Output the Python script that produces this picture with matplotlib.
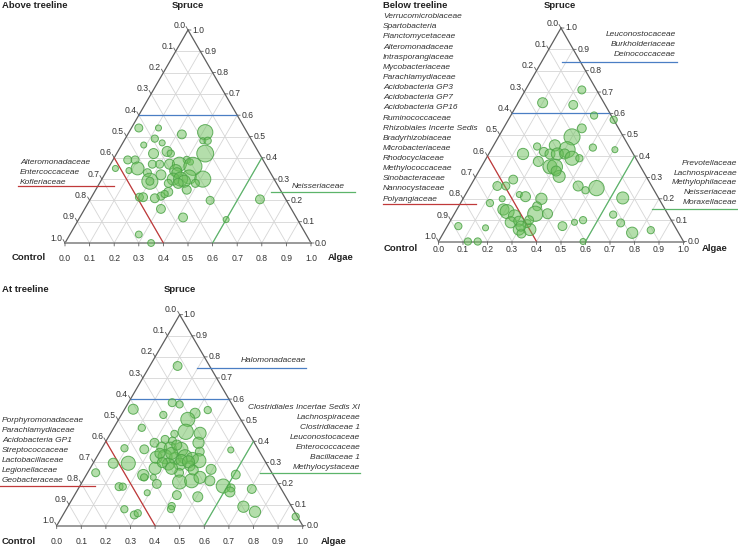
import numpy as np
import matplotlib.pyplot as plt
from matplotlib.lines import Line2D

plt.rcParams['font.family'] = ['Liberation Sans', 'DejaVu Sans']

# compositions: fraction of reads in algae and spruce (control = rest), bubble = abundance
above_algae = [0.03, 0.11, 0.22, 0.31, 0.32, 0.34, 0.12, 0.16, 0.09, 0.20, 0.22, 0.15, 0.36, 0.30,
               0.32, 0.06, 0.09, 0.17, 0.20, 0.24, 0.28, 0.34, 0.03, 0.12, 0.09, 0.17, 0.28, 0.29,
               0.23, 0.35, 0.41, 0.29, 0.32, 0.34, 0.20, 0.20, 0.28, 0.32, 0.39, 0.30, 0.28, 0.195,
               0.21, 0.26, 0.29, 0.37, 0.49, 0.31, 0.42, 0.69, 0.60, 0.28, 0.35]
above_spruce = [0.54, 0.54, 0.51, 0.52, 0.48, 0.48, 0.49, 0.47, 0.46, 0.43, 0.42, 0.42, 0.42, 0.39,
                0.38, 0.39, 0.39, 0.37, 0.37, 0.37, 0.37, 0.36, 0.35, 0.35, 0.34, 0.33, 0.34, 0.33,
                0.32, 0.31, 0.30, 0.30, 0.30, 0.29, 0.29, 0.29, 0.28, 0.28, 0.28, 0.24, 0.22, 0.215,
                0.215, 0.21, 0.23, 0.25, 0.20, 0.16, 0.12, 0.205, 0.11, 0.04, 0.0]
above_abund = [44, 25, 54, 160, 25, 36, 36, 25, 25, 69, 36, 69, 196, 36,
               25, 44, 44, 44, 44, 69, 136, 225, 25, 114, 25, 44, 100, 69,
               69, 136, 178, 100, 136, 100, 178, 44, 44, 69, 44, 54, 44, 44,
               54, 54, 36, 54, 44, 54, 54, 54, 25, 32, 32]

below_algae = [0.23, 0.10, 0.23, 0.34, 0.43, 0.30, 0.31, 0.25, 0.18, 0.14, 0.22, 0.25, 0.28, 0.31,
               0.35, 0.38, 0.41, 0.505, 0.22, 0.28, 0.30, 0.34, 0.315, 0.44, 0.48, 0.52, 0.16, 0.145,
               0.22, 0.11, 0.12, 0.16, 0.25, 0.32, 0.32, 0.33, 0.38, 0.19, 0.21, 0.25, 0.25, 0.28,
               0.30, 0.32, 0.345, 0.32, 0.30, 0.32, 0.47, 0.51, 0.54, 0.65, 0.70, 0.045, 0.16, 0.12,
               0.16, 0.59, 0.65, 0.32, 0.77, 0.84]
below_spruce = [0.71, 0.65, 0.64, 0.59, 0.57, 0.49, 0.43, 0.45, 0.445, 0.41, 0.42, 0.41, 0.41, 0.41,
                0.39, 0.39, 0.44, 0.43, 0.375, 0.35, 0.35, 0.305, 0.33, 0.26, 0.24, 0.25, 0.29, 0.26,
                0.22, 0.26, 0.18, 0.20, 0.21, 0.20, 0.165, 0.13, 0.13, 0.15, 0.14, 0.12, 0.09, 0.095,
                0.056, 0.037, 0.056, 0.084, 0.072, 0.10, 0.072, 0.09, 0.10, 0.126, 0.087, 0.072, 0.064, 0.0,
                0.0, 0.0, 0.204, 0.53, 0.041, 0.053]
below_abund = [44, 69, 54, 36, 36, 178, 178, 87, 36, 87, 54, 69, 100, 69,
               136, 36, 36, 25, 69, 136, 160, 100, 69, 69, 36, 160, 54, 44,
               25, 54, 36, 25, 69, 87, 54, 160, 69, 87, 136, 100, 87, 69,
               87, 54, 100, 44, 69, 54, 54, 25, 36, 36, 44, 36, 25, 36,
               36, 25, 100, 54, 87, 36]

at_algae = [0.113, 0.178, 0.212, 0.035, 0.171, 0.296, 0.340, 0.281, 0.114, 0.302, 0.364, 0.261,
            0.236, 0.201, 0.270, 0.092, 0.175, 0.241, 0.278, 0.324, 0.380, 0.406, 0.528, 0.242,
            0.277, 0.322, 0.358, 0.392, 0.424, 0.308, 0.355, 0.400, 0.264, 0.082, 0.143, 0.033,
            0.232, 0.241, 0.278, 0.308, 0.372, 0.396, 0.442, 0.468, 0.494, 0.516, 0.583, 0.619,
            0.624, 0.607, 0.706, 0.161, 0.176, 0.290, 0.416, 0.505, 0.421, 0.425, 0.236, 0.290,
            0.300, 0.714, 0.773, 0.950, 0.248, 0.296, 0.352, 0.297, 0.384, 0.280, 0.423, 0.331]
at_spruce = [0.757, 0.583, 0.575, 0.552, 0.525, 0.533, 0.548, 0.504, 0.464, 0.445, 0.438, 0.435,
             0.409, 0.393, 0.401, 0.367, 0.362, 0.372, 0.367, 0.362, 0.393, 0.351, 0.359, 0.324,
             0.327, 0.319, 0.327, 0.319, 0.308, 0.292, 0.292, 0.283, 0.272, 0.296, 0.296, 0.251,
             0.240, 0.229, 0.229, 0.198, 0.251, 0.207, 0.213, 0.229, 0.267, 0.213, 0.188, 0.179,
             0.160, 0.242, 0.174, 0.185, 0.185, 0.156, 0.145, 0.137, 0.093, 0.079, 0.078, 0.051,
             0.059, 0.090, 0.066, 0.043, 0.343, 0.343, 0.311, 0.382, 0.303, 0.299, 0.264, 0.272]
at_abund = [54, 44, 36, 69, 36, 69, 36, 136, 36, 160, 100, 36,
            44, 54, 44, 36, 54, 69, 100, 136, 87, 54, 25, 100,
            136, 100, 136, 100, 136, 100, 100, 69, 100, 69, 136, 44,
            87, 36, 25, 54, 54, 136, 136, 100, 69, 69, 136, 44,
            69, 54, 54, 44, 36, 25, 54, 69, 36, 36, 36, 44,
            36, 87, 87, 36, 69, 100, 87, 69, 100, 69, 69, 100]

ticks = np.round(np.arange(0, 1.01, 0.1), 1)

above_left = ['Alteromonadaceae', 'Entercoccaceae', 'Kofleriaceae']
above_right = ['Neisseriaceae']
below_left = ['Verrucomicrobiaceae', 'Spartobacteria', 'Planctomycetaceae', 'Alteromonadaceae',
              'Intrasporangiaceae', 'Mycobacteriaceae', 'Parachlamydiaceae', 'Acidobacteria GP3',
              'Acidobacteria GP7', 'Acidobacteria GP16', 'Ruminococcaceae',
              'Rhizobiales Incerte Sedis', 'Bradyrhizobiaceae', 'Microbacteriaceae',
              'Rhodocyclaceae', 'Methylococcaceae', 'Sinobacteraceae', 'Nannocystaceae',
              'Polyangiaceae']
below_top = ['Leuconostocaceae', 'Burkholderiaceae', 'Deinococcaceae']
below_right = ['Prevotellaceae', 'Lachnospiraceae', 'Methylophilaceae', 'Neisseriaceae',
               'Moraxellaceae']
at_left = ['Porphyromonadaceae', 'Parachlamydiaceae', 'Acidobacteria GP1', 'Streptococcaceae',
           'Lactobacillaceae', 'Legionellaceae', 'Geobacteraceae']
at_top = ['Halomonadaceae']
at_right = ['Clostridiales Incertae Sedis XI', 'Lachnospiraceae', 'Clostridiaceae 1',
            'Leuconostocaceae', 'Enterococcaceae', 'Bacillaceae 1', 'Methylocystaceae']

R3 = np.sqrt(3) / 2
FW, FH = 738, 550
GRID = '#d6d6d6'
EDGE = '#5e5e5e'
TXT = '#333333'
RED = '#c0393a'
BLUE = '#4a7ec4'
GREEN = '#5cb46a'
PX = 0.72  # points per pixel


def to_xy(algae, spruce):
    algae = np.asarray(algae, dtype=float)
    spruce = np.asarray(spruce, dtype=float)
    return algae + spruce / 2, spruce * R3


fig = plt.figure(figsize=(FW / 100, FH / 100), dpi=100)


def ftext(x, y, s, **kw):
    fig.text(x / FW, 1 - y / FH, s, va='center', **kw)


def fline(x0, x1, y, color):
    fig.add_artist(Line2D([x0 / FW, x1 / FW], [1 - y / FH] * 2, transform=fig.transFigure,
                          color=color, lw=0.9))


def tick_mark(ax, xy, dx, dy):
    ax.annotate('', xy, xytext=(dx * PX, dy * PX), textcoords='offset points',
                arrowprops=dict(arrowstyle='-', color=EDGE, lw=0.6, shrinkA=0, shrinkB=0),
                annotation_clip=False)


def ternary(box, algae, spruce, abund, gap):
    left, right, bottom, top = box
    ax = fig.add_axes([left / FW, 1 - bottom / FH, (right - left) / FW, (bottom - top) / FH])
    ax.set_xlim(0, 1)
    ax.set_ylim(0, R3)
    ax.axis('off')

    # grid lines in the three directions
    for v in ticks[1:-1]:
        for a0, s0, a1, s1 in [(0, v, 1 - v, v), (v, 0, v, 1 - v), (1 - v, 0, 0, 1 - v)]:
            x, y = to_xy([a0, a1], [s0, s1])
            ax.plot(x, y, color=GRID, lw=0.6, zorder=1)

    x, y = to_xy([0, 0, 1], [0, 1, 0])
    ax.plot(x[:2], y[:2], color=EDGE, lw=0.9, zorder=2, clip_on=False)
    ax.plot(x[1:], y[1:], color=EDGE, lw=0.9, zorder=2, clip_on=False)
    ax.plot([x[0], x[2]], [y[0], y[2]], color='#9a9a9a', lw=1.4, zorder=2, clip_on=False)

    tk = dict(fontsize=6.2, color=TXT, textcoords='offset points', va='center',
              annotation_clip=False)
    for t in ticks:
        # bottom axis: algae
        bxy = to_xy(t, 0)
        tick_mark(ax, bxy, 0, -3)
        ax.annotate(f'{t:.1f}', bxy, xytext=(0, -gap * PX), ha='center', **tk)
        # left axis: control
        lxy = to_xy(0, 1 - t)
        tick_mark(ax, lxy, -2, 3.5)
        ax.annotate(f'{t:.1f}', lxy, xytext=(-2.5 * PX, 5 * PX), ha='right', **tk)
        # right axis: spruce
        rxy = to_xy(1 - t, t)
        tick_mark(ax, rxy, 3, 0)
        ax.annotate(f'{t:.1f}', rxy, xytext=(4 * PX, 0), ha='left', **tk)

    # 60 % thresholds
    x, y = to_xy([0, 0.4], [0.6, 0.6])
    ax.plot(x, y, color=BLUE, lw=0.9, zorder=2)
    x, y = to_xy([0, 0.4], [0.4, 0])
    ax.plot(x, y, color=RED, lw=0.9, zorder=2)
    x, y = to_xy([0.6, 0.6], [0, 0.4])
    ax.plot(x, y, color=GREEN, lw=0.9, zorder=2)

    x, y = to_xy(algae, spruce)
    ax.scatter(x, y, s=np.asarray(abund) * 1.45 * PX ** 2, facecolor=(0.42, 0.75, 0.35, 0.5),
               edgecolor=(0.29, 0.64, 0.27, 0.85), lw=0.7, zorder=3, clip_on=False)
    return ax


bold = dict(fontsize=6.8, fontweight='bold', color='#222222')
ital = dict(fontsize=6.0, style='italic', color=TXT)

# Above treeline
ternary((65, 311, 243, 30), above_algae, above_spruce, above_abund, 15)
ftext(2, 6, 'Above treeline', ha='left', **bold)
ftext(188, 6, 'Spruce', ha='center', **bold)
ftext(29, 258, 'Control', ha='center', **bold)
ftext(341, 258, 'Algae', ha='center', **bold)
for i, name in enumerate(above_left):
    ftext(20, 162 + 10 * i, name, ha='left', **ital)
fline(18, 114, 186, RED)
ftext(345, 186, above_right[0], ha='right', **ital)
fline(271, 355, 192, GREEN)

# Below treeline
ternary((438.5, 683.5, 241.5, 28), below_algae, below_spruce, below_abund, 8)
ftext(383, 5, 'Below treeline', ha='left', **bold)
ftext(560, 6, 'Spruce', ha='center', **bold)
ftext(401, 248.5, 'Control', ha='center', **bold)
ftext(715, 248.5, 'Algae', ha='center', **bold)
for i, name in enumerate(below_left):
    ftext(383, 16.7 + 10.13 * i, name, ha='left', **ital)
fline(383, 476, 203.5, RED)
for i, name in enumerate(below_top):
    ftext(676, 35 + 10 * i, name, ha='right', **ital)
fline(561.7, 676.5, 61.5, BLUE)
for i, name in enumerate(below_right):
    ftext(737, 163.3 + 9.85 * i, name, ha='right', **ital)
fline(652, 738, 209, GREEN)

# At treeline
ternary((56.7, 302.7, 525.7, 314.7), at_algae, at_spruce, at_abund, 16)
ftext(2, 290, 'At treeline', ha='left', **bold)
ftext(180, 290, 'Spruce', ha='center', **bold)
ftext(19, 541.7, 'Control', ha='center', **bold)
ftext(334, 541.7, 'Algae', ha='center', **bold)
for i, name in enumerate(at_left):
    ftext(2, 421 + 10 * i, name, ha='left', **ital)
fline(0, 95, 486, RED)
ftext(306, 361, at_top[0], ha='right', **ital)
fline(196.7, 306, 367.7, BLUE)
for i, name in enumerate(at_right):
    ftext(360, 407.3 + 10.07 * i, name, ha='right', **ital)
fline(260, 360, 473.3, GREEN)

fig.savefig('out.png', dpi=100)
